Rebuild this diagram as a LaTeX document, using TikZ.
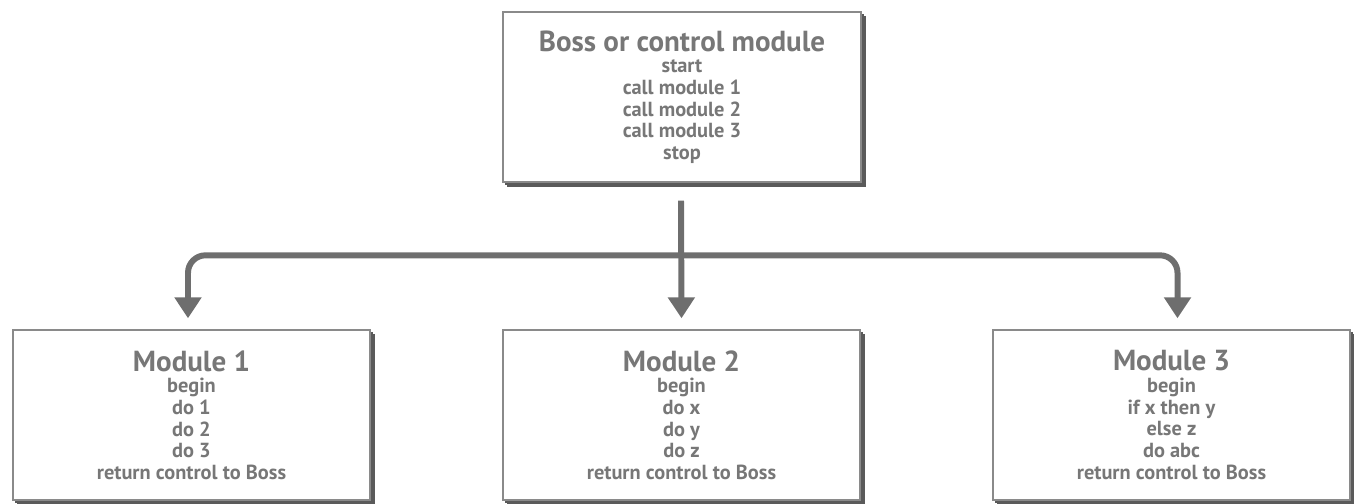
\documentclass[tikz,border=0pt]{standalone}
\usepackage{fontspec}
\setmainfont{PT Sans}
\usetikzlibrary{arrows.meta,calc,shadows}
\definecolor{txt}{HTML}{777777}
\definecolor{frame}{HTML}{8A8A8A}
\definecolor{shade}{HTML}{5A5A5A}
\definecolor{arr}{HTML}{6E6E6E}
\tikzset{
  modbox/.style={draw=frame, line width=0.8pt, fill=white, minimum width=7.14cm, minimum height=3.4cm,
    align=center, text=txt, font=\bfseries\fontsize{11.6}{12.3}\selectfont,
    double copy shadow={shadow xshift=0.045cm, shadow yshift=-0.045cm, draw=shade, fill=shade, opacity=1}},
  flow/.style={draw=arr, line width=3.4pt, -{Triangle[width=0.52cm,length=0.42cm]}},
}
\newcommand{\ttlsize}{\fontsize{16.5}{15}\selectfont}
\begin{document}
\begin{tikzpicture}[x=1cm,y=1cm]
\useasboundingbox (0,0) rectangle (27.08,-10.06);
\node[modbox, minimum width=7.16cm] (boss) at (13.64,-1.94) {{\ttlsize Boss or control module}\\start\\call module 1\\call module 2\\call module 3\\stop};
\node[modbox] (m1) at (3.83,-8.3) {{\ttlsize Module 1}\\begin\\do 1\\do 2\\do 3\\return control to Boss};
\node[modbox] (m2) at (13.63,-8.3) {{\ttlsize Module 2}\\begin\\do x\\do y\\do z\\return control to Boss};
\node[modbox] (m3) at (23.43,-8.3) {{\ttlsize Module 3}\\begin\\if x then y\\else z\\do abc\\return control to Boss};
\coordinate (t1) at ($(m1.north)+(-0.07,0.22)$);
\coordinate (t3) at ($(m3.north)+(0.12,0.22)$);
\coordinate (t2) at ($(m2.north)+(0.0,0.22)$);
\coordinate (h) at ($(t2)+(0,1.26)$);
\coordinate (s) at ($(boss.south)+(-0.02,-0.36)$);
\draw[flow, {Triangle[width=0.52cm,length=0.42cm]}-{Triangle[width=0.52cm,length=0.42cm]}, rounded corners=0.35cm] (t1) |- (h) -| (t3);
\draw[flow] (s) -- (t2);
\end{tikzpicture}
\end{document}
